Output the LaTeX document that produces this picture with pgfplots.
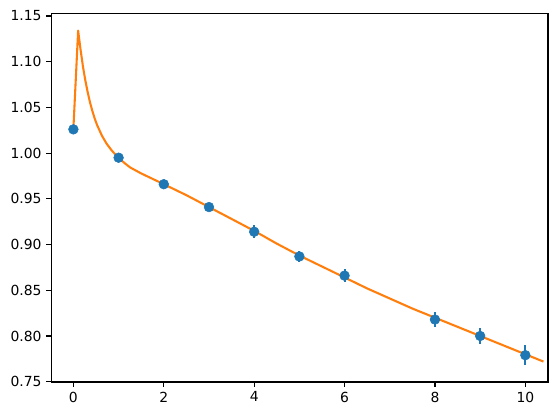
\documentclass[border=0pt]{standalone}
\usepackage{pgfplots}
\pgfplotsset{compat=1.18}
\usepackage{fontspec}
\setmainfont{DejaVu Sans}
\definecolor{c0}{HTML}{1F77B4}
\definecolor{c1}{HTML}{FF7F0E}
\begin{document}
\begin{tikzpicture}
\begin{axis}[name=ax,
  scale only axis, width=357.6pt, height=265pt,
  xmin=-0.49, xmax=10.5, ymin=0.7497, ymax=1.1523,
  xtick={0,2,4,6,8,10},
  ytick={0.75,0.80,0.85,0.90,0.95,1.00,1.05,1.10,1.15},
  yticklabel style={/pgf/number format/fixed,/pgf/number format/fixed zerofill,/pgf/number format/precision=2},
  /pgf/number format/assume math mode=true,
  tick label style={font=\fontsize{10}{12}\selectfont, text=black},
  axis line style={line width=0.8pt},
  tick style={line width=0.8pt, black},
  major tick length=3.5pt, tick align=outside,
  xtick pos=bottom, ytick pos=left,
  clip=false,
]
\addplot[c1, line width=1.5pt, line join=round] coordinates {
(0,1.027) (0.105,1.134) (0.1575,1.1134) (0.21,1.0952) (0.2625,1.0799) (0.315,1.0669)
(0.3675,1.0555) (0.42,1.0460) (0.4725,1.0377) (0.525,1.0306) (0.63,1.0192)
(0.735,1.0103) (0.84,1.0034) (0.945,0.9975) (1.05,0.9926) (1.155,0.9882) (1.26,0.9842)
(1.5,0.9778) (2.0,0.966) (2.5,0.954) (3.0,0.941) (3.5,0.928) (4.0,0.915)
(4.5,0.901) (5.0,0.888) (5.5,0.876) (6.0,0.864) (6.5,0.852) (7.0,0.841)
(7.5,0.830) (8.0,0.820) (8.5,0.810) (9.0,0.800) (9.5,0.790) (10.0,0.780) (10.4,0.772)
};
\addplot[c0, only marks, mark=*, mark size=3.5pt,
  error bars/.cd, y dir=both, y explicit,
  error bar style={line width=1.5pt, c0}, error mark=none]
coordinates {
(0,1.026) +- (0,0.003)
(1,0.995) +- (0,0.003)
(2,0.966) +- (0,0.003)
(3,0.941) +- (0,0.004)
(4,0.914) +- (0,0.007)
(5,0.887) +- (0,0.006)
(6,0.866) +- (0,0.007)
(8,0.818) +- (0,0.008)
(9,0.800) +- (0,0.009)
(10,0.779) +- (0,0.011)
};
\end{axis}
\path (ax.south west) ++(-36.9pt,-24.5pt) rectangle ++(400.3pt,299.5pt);
\end{tikzpicture}
\end{document}
